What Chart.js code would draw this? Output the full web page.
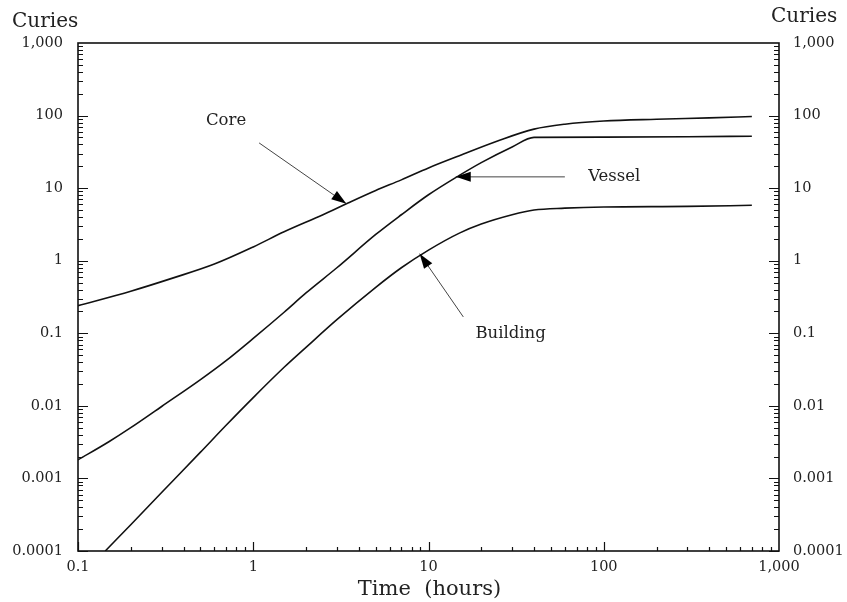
<!DOCTYPE html>
<html>
<head>
<meta charset="utf-8">
<script src="https://cdn.jsdelivr.net/npm/chart.js@4/dist/chart.umd.min.js"></script>
<style>
html,body{margin:0;padding:0;background:#fff;}
canvas{display:block;}
</style>
</head>
<body>
<canvas id="c" width="847" height="602"></canvas>
<script>
// ---- data ----
const coreTime = [0.1,0.2,0.35,0.6,1,1.5,2.5,3.5,5,7,10,15,25,40,60,100,200,400,700];
const coreCuries = [0.24,0.38,0.58,0.90,1.55,2.5,4.3,6.3,9.3,13,19,28,45,65,76,84,89,93,97];

const vesselTime = [0.1,0.15,0.2,0.3,0.5,0.7,1,1.5,2,3,5,7,10,15,20,30,40,100,300,700];
const vesselCuries = [0.0018,0.0032,0.005,0.0098,0.023,0.042,0.085,0.195,0.36,0.8,2.3,4.3,8.1,15,22.5,37,50,50.5,51,52];

const buildingTime = [0.143,0.2,0.3,0.5,0.7,1,1.5,2,3,5,7,10,15,20,30,40,60,100,300,700];
const buildingCuries = [0.0001,0.00023,0.00064,0.0023,0.0054,0.013,0.034,0.064,0.154,0.43,0.80,1.4,2.4,3.2,4.3,5.0,5.3,5.5,5.6,5.8];

const xTickValues = [0.1,1,10,100,1000];
const xTickLabels = ['0.1','1','10','100','1,000'];
const yTickValues = [0.0001,0.001,0.01,0.1,1,10,100,1000];
const yTickLabels = ['0.0001','0.001','0.01','0.1','1','10','100','1,000'];

const seriesNames = ['Core','Vessel','Building'];
// annotation anchors in data coordinates: label position, arrow tail, arrow tip
const notes = [
  {text:'Core', label:[0.70,85], tail:[1.08,42], tip:[3.4,6.1], align:'center'},
  {text:'Vessel', label:[66,14.3], tail:[60,14.3], tip:[14.3,14.3], align:'left'},
  {text:'Building', label:[29.4,0.10], tail:[15.8,0.168], tip:[8.9,1.25], align:'center'}
];

const toPts = (t, v) => t.map((x, i) => ({x: x, y: v[i]}));
const FONT = '"DejaVu Serif", serif';

const lineStyle = {borderColor:'#111', borderWidth:1.6, pointRadius:0, fill:false, cubicInterpolationMode:'monotone'};

const overlay = {
  id:'overlay',
  afterDraw(chart){
    const ctx = chart.ctx;
    const a = chart.chartArea;
    const xs = chart.scales.x, ys = chart.scales.y;
    ctx.save();
    // frame
    ctx.strokeStyle = '#111';
    ctx.lineWidth = 1.6;
    ctx.strokeRect(a.left, a.top, a.right - a.left, a.bottom - a.top);
    // inward ticks
    ctx.lineWidth = 1.2;
    ctx.beginPath();
    for (let e = -4; e < 3; e++) {
      for (let k = 1; k < 10; k++) {
        const v = k * Math.pow(10, e);
        const py = Math.round(ys.getPixelForValue(v)) + 0.5;
        const len = k === 1 ? 10 : 5;
        ctx.moveTo(a.left, py); ctx.lineTo(a.left + len, py);
        ctx.moveTo(a.right, py); ctx.lineTo(a.right - len, py);
      }
    }
    for (let e = -1; e < 3; e++) {
      for (let k = 1; k < 10; k++) {
        const v = k * Math.pow(10, e);
        const px = Math.round(xs.getPixelForValue(v)) + 0.5;
        const len = k === 1 ? 9 : 4;
        ctx.moveTo(px, a.bottom); ctx.lineTo(px, a.bottom - len);
      }
    }
    ctx.stroke();
    // axis titles
    ctx.fillStyle = '#222';
    ctx.font = '20px ' + FONT;
    ctx.textBaseline = 'middle';
    ctx.textAlign = 'left';
    ctx.fillText('Curies', 12, 22);
    ctx.fillText('Curies', 771, 17);
    ctx.textAlign = 'center';
    ctx.font = '21px ' + FONT;
    ctx.fillText('Time  (hours)', (a.left + a.right) / 2 + 1, 590);
    // annotations
    ctx.font = '16.5px ' + FONT;
    notes.forEach(n => {
      const lx = xs.getPixelForValue(n.label[0]), ly = ys.getPixelForValue(n.label[1]);
      const tx = xs.getPixelForValue(n.tail[0]), ty = ys.getPixelForValue(n.tail[1]);
      const hx = xs.getPixelForValue(n.tip[0]), hy = ys.getPixelForValue(n.tip[1]);
      ctx.textAlign = n.align;
      ctx.fillStyle = '#222';
      ctx.fillText(n.text, n.align === 'left' ? lx + 16 : lx, ly);
      ctx.strokeStyle = '#444';
      ctx.lineWidth = 1;
      ctx.beginPath(); ctx.moveTo(tx, ty); ctx.lineTo(hx, hy); ctx.stroke();
      const ang = Math.atan2(hy - ty, hx - tx);
      const L = 15, W = 5;
      const bx = hx - L * Math.cos(ang), by = hy - L * Math.sin(ang);
      ctx.fillStyle = '#000';
      ctx.beginPath();
      ctx.moveTo(hx, hy);
      ctx.lineTo(bx + W * Math.sin(ang), by - W * Math.cos(ang));
      ctx.lineTo(bx - W * Math.sin(ang), by + W * Math.cos(ang));
      ctx.closePath(); ctx.fill();
    });
    ctx.restore();
  }
};

const yScale = (pos, width, pad) => ({
  type:'logarithmic', position:pos, min:0.0001, max:1000,
  afterBuildTicks(s){ s.ticks = yTickValues.map(v => ({value:v})); },
  afterFit(s){ s.width = width; },
  grid:{display:false, drawTicks:false},
  border:{display:false},
  ticks:{
    padding:pad, color:'#222', font:{family:FONT, size:14.5},
    autoSkip:false, maxRotation:0,
    callback:(v, i) => yTickLabels[i]
  }
});

new Chart(document.getElementById('c'), {
  type:'line',
  data:{
    datasets:[
      Object.assign({label:seriesNames[0], data:toPts(coreTime, coreCuries)}, lineStyle),
      Object.assign({label:seriesNames[1], data:toPts(vesselTime, vesselCuries)}, lineStyle),
      Object.assign({label:seriesNames[2], data:toPts(buildingTime, buildingCuries)}, lineStyle)
    ]
  },
  options:{
    responsive:false,
    animation:false,
    devicePixelRatio:1,
    layout:{padding:{top:43, left:0, right:0, bottom:0}},
    plugins:{legend:{display:false}, tooltip:{enabled:false}},
    scales:{
      x:{
        type:'logarithmic', min:0.1, max:1000,
        afterBuildTicks(s){ s.ticks = xTickValues.map(v => ({value:v})); },
        afterFit(s){ s.height = 51; },
        grid:{display:false, drawTicks:false},
        border:{display:false},
        ticks:{
          padding:8, color:'#222', font:{family:FONT, size:14.5},
          autoSkip:false, maxRotation:0,
          callback:(v, i) => xTickLabels[i]
        }
      },
      y: yScale('left', 78, 15),
      y2: yScale('right', 68, 14)
    }
  },
  plugins:[overlay]
});
</script>
</body>
</html>
